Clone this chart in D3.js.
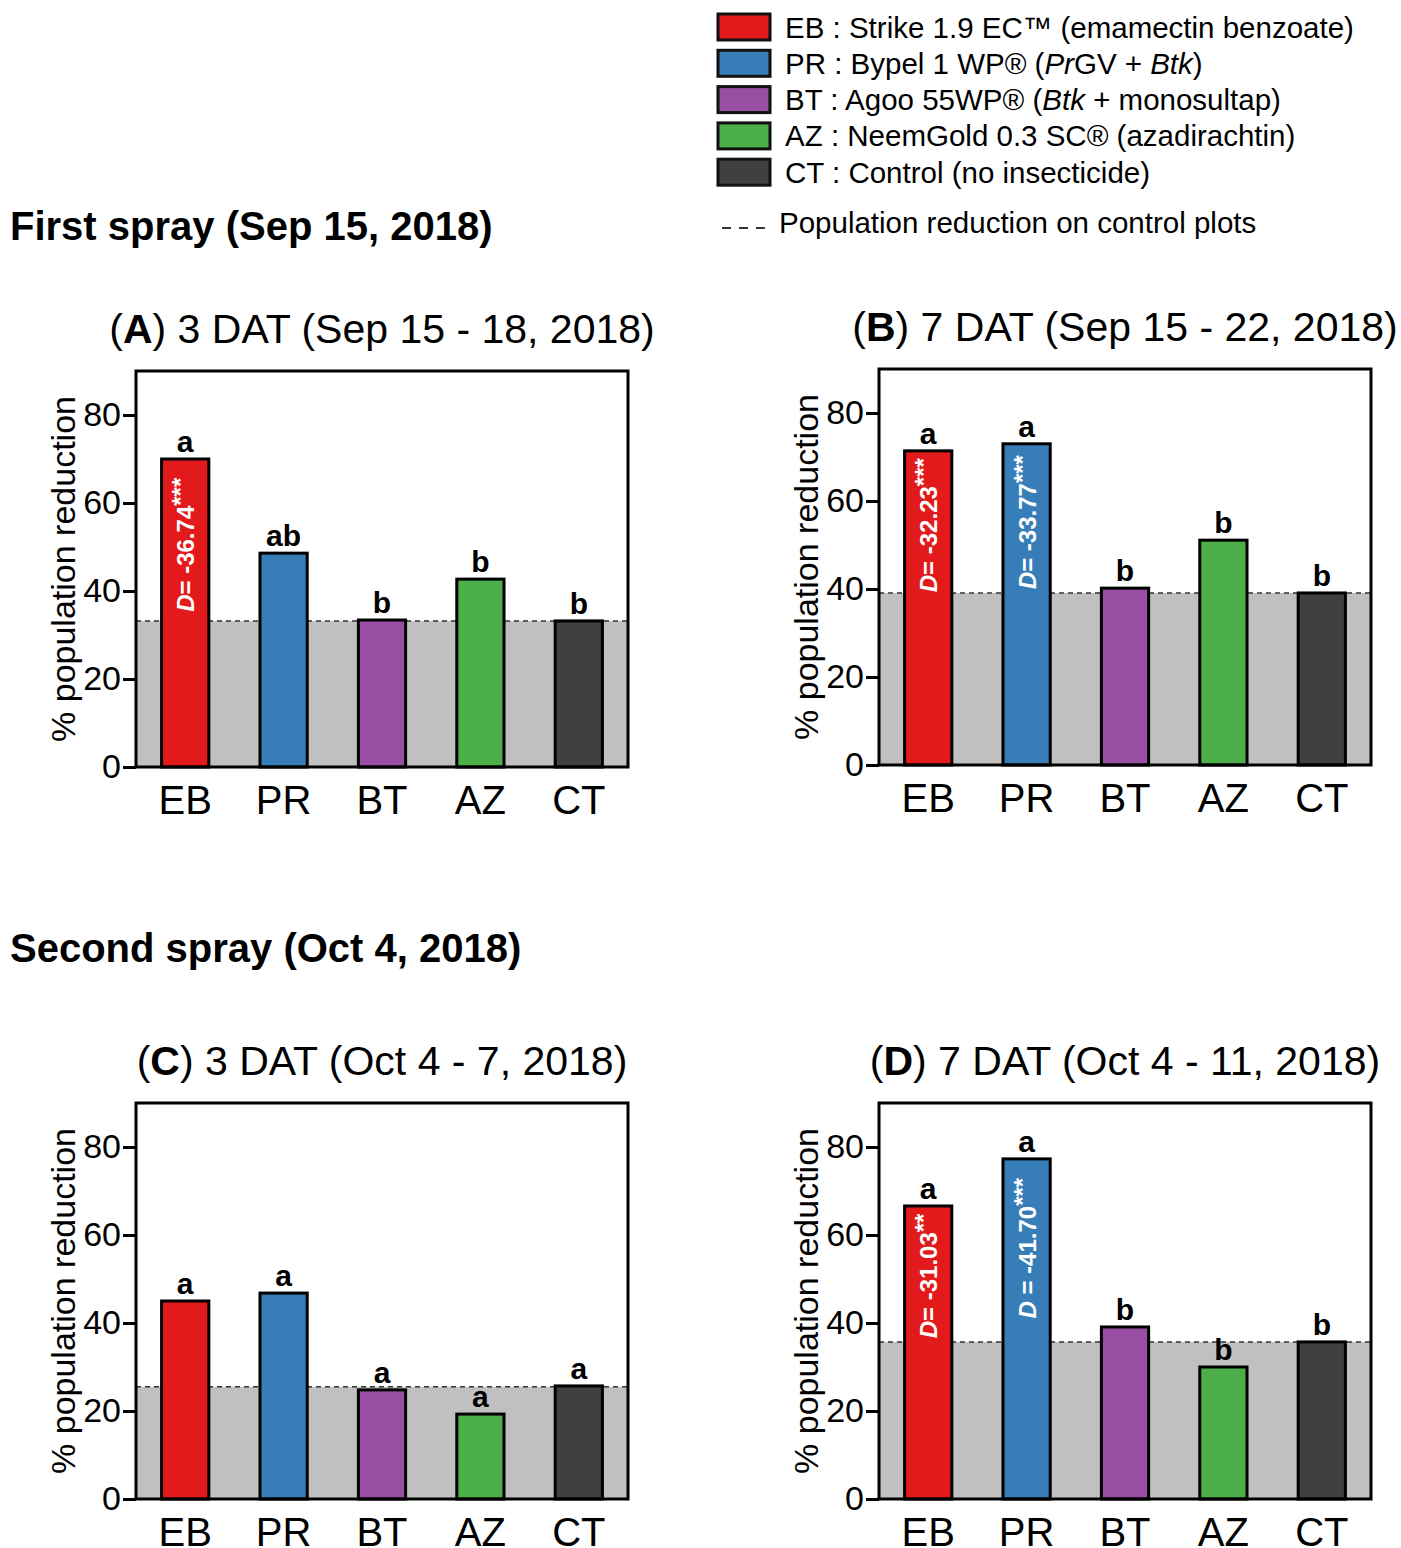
<!DOCTYPE html>
<html>
<head>
<meta charset="utf-8">
<script src="https://cdn.jsdelivr.net/npm/d3@7"></script>
<style>
  body { margin: 0; background: #fff; }
  svg { display: block; }
</style>
</head>
<body>
<div id="chart"></div>
<script>
// treatments and colours
var categories = ["EB", "PR", "BT", "AZ", "CT"];
var barColors = ["#e31a1c", "#377eb8", "#984ea3", "#4daf4a", "#404040"];

// % population reduction
var valuesA = [70.0, 48.6, 33.4, 42.7, 33.2];
var valuesB = [71.4, 73.0, 40.2, 51.1, 39.1];
var valuesC = [45.0, 46.8, 24.8, 19.3, 25.7];
var valuesD = [66.6, 77.3, 39.1, 30.0, 35.7];

// control reduction (dashed line / grey band)
var controlLine = [33.2, 39.1, 25.5, 35.7];

// significance letters
var lettersA = ["a", "ab", "b", "b", "b"];
var lettersB = ["a", "a", "b", "b", "b"];
var lettersC = ["a", "a", "a", "a", "a"];
var lettersD = ["a", "a", "b", "b", "b"];

// D statistics written inside bars: [category, label, stars, centre value]
var statsA = [["EB", "= -36.74", "***", 50.5]];
var statsB = [["EB", "= -32.23", "***", 54.5], ["PR", "= -33.77", "***", 55.2]];
var statsC = [];
var statsD = [["EB", "= -31.03", "**", 50.7], ["PR", " = -41.70", "***", 57.0]];

var panelLetters = ["A", "B", "C", "D"];
var panelTitles = [") 3 DAT (Sep 15 - 18, 2018)", ") 7 DAT (Sep 15 - 22, 2018)",
                   ") 3 DAT (Oct 4 - 7, 2018)", ") 7 DAT (Oct 4 - 11, 2018)"];
var yTicks = [0, 20, 40, 60, 80];

var legendItems = [
  [["EB : Strike 1.9 EC™ (emamectin benzoate)", false]],
  [["PR : Bypel 1 WP® (", false], ["Pr", true], ["GV + ", false], ["Btk", true], [")", false]],
  [["BT : Agoo 55WP® (", false], ["Btk", true], [" + monosultap)", false]],
  [["AZ : NeemGold 0.3 SC® (azadirachtin)", false]],
  [["CT : Control (no insecticide)", false]]
];

var font = "'Liberation Sans', Arial, sans-serif";

var svg = d3.select("#chart").append("svg")
    .attr("width", 1401)
    .attr("height", 1548)
    .attr("font-family", font);

// legend
var leg = svg.append("g");
legendItems.forEach(function(item, i) {
  var cy = 27 + i * 36.3;
  leg.append("rect")
      .attr("x", 718).attr("y", cy - 13)
      .attr("width", 52).attr("height", 26)
      .attr("fill", barColors[i])
      .attr("stroke", "#111").attr("stroke-width", 3);
  var t = leg.append("text")
      .attr("x", 785).attr("y", cy + 10.5)
      .attr("font-size", 29.5);
  item.forEach(function(seg) {
    t.append("tspan").text(seg[0]).attr("font-style", seg[1] ? "italic" : "normal");
  });
});
leg.append("line")
    .attr("x1", 722).attr("x2", 770).attr("y1", 228).attr("y2", 228)
    .attr("stroke", "#333").attr("stroke-width", 1.8)
    .attr("stroke-dasharray", "9,8");
leg.append("text")
    .attr("x", 779).attr("y", 233)
    .attr("font-size", 29.5)
    .text("Population reduction on control  plots");

// section headings
svg.append("text").attr("x", 10).attr("y", 240)
    .attr("font-size", 40).attr("font-weight", "bold")
    .text("First spray (Sep 15, 2018)");
svg.append("text").attr("x", 10).attr("y", 962)
    .attr("font-size", 40).attr("font-weight", "bold")
    .text("Second spray (Oct 4, 2018)");

var panels = [
  {x0: 136, x1: 628, y0: 371, y1: 767, values: valuesA, letters: lettersA, stats: statsA},
  {x0: 879, x1: 1371, y0: 369, y1: 765, values: valuesB, letters: lettersB, stats: statsB},
  {x0: 136, x1: 628, y0: 1103, y1: 1499, values: valuesC, letters: lettersC, stats: statsC},
  {x0: 879, x1: 1371, y0: 1103, y1: 1499, values: valuesD, letters: lettersD, stats: statsD}
];

panels.forEach(function(p, pi) {
  var x = d3.scaleBand().domain(categories).range([p.x0, p.x1])
      .paddingInner(0.52).paddingOuter(0.26);
  var y = d3.scaleLinear().domain([0, 90]).range([p.y1, p.y0]);
  var g = svg.append("g");

  // grey band up to control level
  g.append("rect")
      .attr("x", p.x0).attr("width", p.x1 - p.x0)
      .attr("y", y(controlLine[pi])).attr("height", y(0) - y(controlLine[pi]))
      .attr("fill", "#c0c0c0");

  // dashed control line
  g.append("line")
      .attr("x1", p.x0).attr("x2", p.x1)
      .attr("y1", y(controlLine[pi])).attr("y2", y(controlLine[pi]))
      .attr("stroke", "#333").attr("stroke-width", 1.5)
      .attr("stroke-dasharray", "5,4");

  // bars
  g.selectAll("rect.bar")
    .data(p.values)
    .join("rect")
      .attr("class", "bar")
      .attr("x", (d, i) => x(categories[i]))
      .attr("width", x.bandwidth())
      .attr("y", d => y(d))
      .attr("height", d => y(0) - y(d))
      .attr("fill", (d, i) => barColors[i])
      .attr("stroke", "#000").attr("stroke-width", 3);

  // letters
  g.selectAll("text.letter")
    .data(p.letters)
    .join("text")
      .attr("class", "letter")
      .attr("x", (d, i) => x(categories[i]) + x.bandwidth() / 2)
      .attr("y", (d, i) => y(p.values[i]) - 7)
      .attr("text-anchor", "middle")
      .attr("font-size", 30).attr("font-weight", "bold")
      .text(d => d);

  // D statistics inside bars
  p.stats.forEach(function(s) {
    var cx = x(s[0]) + x.bandwidth() / 2;
    var cy = y(s[3]);
    var t = g.append("text")
        .attr("transform", "translate(" + (cx + 9) + "," + cy + ") rotate(-90)")
        .attr("text-anchor", "middle")
        .attr("fill", "#fff")
        .attr("font-size", 24).attr("font-weight", "bold");
    t.append("tspan").attr("font-style", "italic").text("D");
    t.append("tspan").text(s[1]);
    t.append("tspan").attr("dy", -5).text(s[2]);
  });

  // frame
  g.append("rect")
      .attr("x", p.x0).attr("y", p.y0)
      .attr("width", p.x1 - p.x0).attr("height", p.y1 - p.y0)
      .attr("fill", "none").attr("stroke", "#000").attr("stroke-width", 3);

  // y axis
  var yAxis = g.append("g")
      .attr("transform", "translate(" + p.x0 + ",0)")
      .call(d3.axisLeft(y).tickValues(yTicks).tickSize(13).tickPadding(2));
  yAxis.select(".domain").remove();
  yAxis.selectAll(".tick line").attr("stroke", "#000").attr("stroke-width", 3);
  yAxis.selectAll(".tick text")
      .attr("font-family", font).attr("font-size", 34).attr("fill", "#000");

  // x axis labels
  var xAxis = g.append("g")
      .attr("transform", "translate(0," + p.y1 + ")")
      .call(d3.axisBottom(x).tickSize(0).tickPadding(17));
  xAxis.select(".domain").remove();
  xAxis.selectAll(".tick text")
      .attr("font-family", font).attr("font-size", 40).attr("fill", "#000")
      .attr("dy", "0.75em");

  // y label
  g.append("text")
      .attr("transform", "translate(" + (p.x0 - 61) + "," + ((p.y0 + p.y1) / 2) + ") rotate(-90)")
      .attr("text-anchor", "middle")
      .attr("font-size", 34)
      .text("% population reduction");

  // panel title
  var tt = g.append("text")
      .attr("x", (p.x0 + p.x1) / 2).attr("y", p.y0 - 28)
      .attr("text-anchor", "middle")
      .attr("font-size", 41);
  tt.append("tspan").text("(");
  tt.append("tspan").attr("font-weight", "bold").text(panelLetters[pi]);
  tt.append("tspan").text(panelTitles[pi]);
});
</script>
</body>
</html>
